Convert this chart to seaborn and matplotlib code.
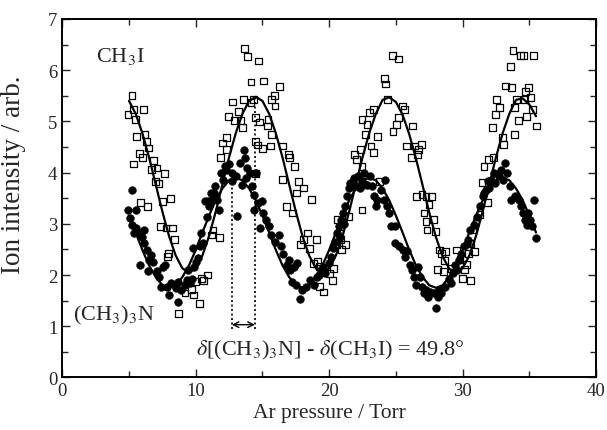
import numpy as np
import pandas as pd
import matplotlib
matplotlib.use("Agg")
import matplotlib.pyplot as plt
import seaborn as sns

# ---- data ----
ch3i_x = [5.22, 4.93, 5.36, 6.09, 5.50, 5.57, 6.20, 6.29, 6.49, 5.80, 6.03, 5.36, 6.81, 6.67, 7.10,
          7.68, 6.96, 7.25, 8.12, 7.54, 5.86, 6.38, 7.39, 7.77, 8.26, 8.41, 7.97, 7.88, 8.70, 9.20,
          9.70, 9.86, 10.00, 10.43, 10.29, 11.16, 11.30, 11.80, 11.88, 12.03, 12.30, 12.30, 12.46,
          12.75, 12.90, 13.19, 13.33, 13.48, 13.68, 13.86, 14.72, 14.14, 15.07, 13.57, 14.14, 14.30,
          14.49, 14.78, 15.42, 15.65, 15.88, 15.94, 16.29, 15.36, 15.65, 14.49, 14.64, 14.49, 15.00,
          15.60, 16.50, 16.96, 17.04, 17.39, 16.50, 17.68, 16.81, 17.25, 17.54, 18.10, 18.70, 17.83,
          18.06, 18.40, 18.55, 19.07, 18.84, 19.13, 19.28, 19.42, 19.57, 19.28, 20.23, 20.00, 20.30,
          20.58, 20.87, 20.81, 20.58, 21.45, 21.60, 21.88, 22.03, 22.32, 22.46, 22.46, 22.60, 22.75,
          22.84, 22.46, 23.04, 23.33, 23.13, 23.33, 23.62, 23.77, 24.14, 24.20, 24.35, 24.72, 25.22,
          24.78, 25.07, 25.22, 25.50, 25.65, 25.80, 26.23, 26.38, 26.67, 26.90, 26.14, 26.60, 26.52,
          26.96, 27.25, 27.48, 27.68, 27.10, 27.25, 27.33, 27.83, 27.97, 28.26, 28.40, 28.64, 28.70,
          28.12, 28.55, 29.13, 29.57, 30.00, 30.58, 30.14, 30.43, 30.87, 30.58, 30.78, 31.30, 31.45,
          31.60, 31.94, 32.32, 31.88, 32.23, 32.52, 32.46, 32.75, 32.96, 33.04, 33.19, 33.57, 33.68,
          33.77, 33.90, 33.90, 34.20, 34.35, 34.55, 34.06, 34.64, 34.72, 34.78, 34.93, 35.07, 35.22,
          35.30, 35.51, 20.90, 21.20, 29.80, 30.30, 10.60, 10.90]
ch3i_y = [5.50, 5.14, 5.24, 5.24, 5.04, 4.70, 4.75, 4.61, 4.48, 4.37, 4.29, 4.17, 4.24, 4.06, 4.09,
          3.99, 3.83, 3.78, 3.50, 3.44, 3.42, 3.34, 2.95, 2.92, 2.92, 2.69, 2.42, 2.36, 1.25, 1.65,
          1.71, 1.61, 1.87, 1.93, 1.44, 2.78, 2.88, 2.74, 4.29, 4.58, 4.68, 4.45, 5.10, 5.38, 5.01,
          5.20, 5.01, 4.88, 6.42, 6.27, 6.18, 5.77, 5.79, 5.43, 5.37, 5.43, 5.07, 4.99, 5.03, 5.43,
          5.50, 5.30, 5.68, 4.91, 4.75, 4.61, 4.54, 3.99, 4.47, 4.52, 4.52, 4.35, 4.29, 4.12, 3.86,
          3.83, 3.34, 3.21, 3.60, 3.70, 3.48, 2.59, 2.69, 2.82, 2.52, 2.69, 2.23, 2.26, 2.16, 2.08,
          1.67, 1.77, 1.90, 2.03, 2.13, 2.59, 2.69, 2.82, 3.08, 3.14, 3.73, 4.35, 4.25, 4.45, 4.12,
          3.27, 3.76, 4.75, 4.94, 5.04, 5.17, 5.24, 4.52, 4.39, 4.71, 3.83, 5.84, 5.73, 5.43, 6.29,
          6.22, 4.81, 4.94, 5.07, 5.30, 5.24, 4.52, 4.91, 4.52, 4.45, 4.55, 4.29, 4.35, 3.54, 3.57,
          3.54, 3.37, 3.54, 3.21, 3.05, 2.88, 3.08, 2.85, 2.49, 2.42, 2.29, 2.46, 2.10, 2.07, 2.13,
          2.49, 1.93, 1.90, 2.10, 2.42, 2.46, 2.62, 2.88, 3.18, 3.80, 4.12, 4.25, 4.29, 3.41, 4.88,
          5.43, 5.14, 5.27, 4.68, 4.55, 5.69, 6.08, 5.66, 6.38, 5.27, 4.75, 5.01, 6.28, 6.28, 5.43,
          5.43, 5.59, 5.10, 5.66, 5.46, 5.24, 6.28, 4.91, 2.50, 2.60, 2.30, 2.20, 1.90, 2.00]

tma_x = [5.22, 4.93, 5.07, 5.50, 5.22, 5.50, 5.36, 5.80, 5.94, 6.09, 5.80, 6.14, 6.32, 6.52, 6.67,
         6.81, 6.46, 7.10, 7.54, 7.68, 7.25, 7.39, 7.83, 8.12, 7.97, 8.41, 8.55, 8.70, 8.93, 9.20,
         8.70, 9.33, 9.42, 9.71, 9.57, 9.86, 10.00, 10.14, 9.80, 10.29, 10.43, 10.58, 10.72, 10.87,
         11.01, 11.16, 11.25, 11.45, 11.60, 11.74, 11.88, 12.03, 12.17, 12.46, 12.70, 12.75, 13.04,
         13.10, 13.33, 13.62, 13.68, 13.77, 13.86, 13.48, 14.06, 14.20, 14.35, 14.49, 14.35, 14.64,
         14.93, 15.07, 14.84, 15.30, 15.51, 15.65, 15.94, 16.23, 16.38, 16.52, 16.81, 16.96, 17.10,
         17.39, 17.62, 17.25, 17.54, 17.97, 17.83, 18.26, 18.55, 18.84, 19.07, 19.42, 19.71, 20.00,
         20.14, 20.29, 20.43, 20.58, 20.72, 20.87, 21.01, 21.16, 21.30, 21.45, 21.59, 21.88, 22.03,
         22.17, 22.46, 22.61, 23.04, 23.19, 23.33, 23.48, 23.62, 23.91, 24.20, 24.12, 24.35, 24.49,
         24.64, 24.93, 24.93, 25.22, 25.51, 25.80, 25.65, 26.09, 26.23, 26.38, 26.52, 26.67, 26.81,
         26.96, 27.10, 27.25, 27.39, 27.54, 27.83, 27.97, 28.12, 28.26, 28.41, 28.70, 28.99, 29.28,
         29.42, 29.71, 29.86, 30.14, 30.43, 30.58, 30.87, 31.07, 31.30, 31.54, 31.74, 31.88, 32.12,
         32.32, 32.46, 32.75, 32.90, 33.04, 33.19, 33.33, 33.57, 33.62, 33.91, 34.20, 34.35, 34.49,
         34.64, 34.84, 34.93, 35.07, 35.22, 35.36, 35.51, 19.20, 19.50, 20.80, 21.10, 22.30, 22.80,
         29.10, 29.60, 30.30, 31.60, 32.00, 10.90, 11.40, 12.30]
tma_y = [3.67, 3.27, 3.11, 3.26, 2.98, 2.92, 2.82, 2.82, 2.75, 2.88, 2.20, 2.62, 2.49, 2.29, 2.39,
         2.26, 2.08, 2.08, 2.16, 2.20, 1.97, 1.76, 1.77, 1.84, 1.61, 1.80, 1.74, 1.87, 1.71, 1.80,
         1.48, 1.90, 2.10, 1.93, 1.84, 2.16, 2.26, 2.33, 2.52, 2.56, 2.82, 2.62, 3.44, 3.14, 3.34,
         3.60, 3.47, 3.73, 3.47, 3.27, 3.99, 3.86, 4.12, 4.16, 3.99, 3.83, 3.93, 3.16, 4.19, 4.45,
         4.29, 3.90, 4.09, 3.76, 3.99, 3.73, 3.57, 3.99, 3.27, 3.41, 3.44, 3.21, 2.92, 3.08, 2.95,
         2.78, 2.65, 2.78, 2.56, 2.42, 2.20, 2.29, 2.10, 2.16, 2.23, 1.87, 1.80, 1.71, 1.54, 1.77,
         1.90, 1.80, 1.97, 2.10, 2.03, 2.23, 2.36, 2.52, 2.65, 2.82, 2.95, 3.08, 3.21, 3.34, 3.54,
         3.70, 3.80, 3.90, 3.73, 3.93, 3.83, 3.99, 3.93, 3.73, 3.54, 3.34, 3.47, 3.67, 3.86, 3.47,
         3.34, 3.21, 2.95, 2.95, 2.62, 2.56, 2.49, 2.46, 2.36, 2.20, 2.10, 1.97, 1.80, 2.16, 1.97,
         1.77, 1.64, 1.71, 1.58, 1.67, 1.64, 1.35, 1.58, 1.71, 1.64, 1.77, 1.93, 2.03, 2.20, 2.29,
         2.42, 2.56, 2.69, 2.88, 2.98, 3.14, 3.34, 3.54, 3.67, 3.83, 3.86, 3.99, 3.80, 3.93, 4.06,
         3.86, 4.19, 3.99, 3.73, 3.47, 3.54, 3.47, 3.34, 3.21, 3.08, 2.98, 3.21, 3.08, 2.95, 3.47,
         2.72, 2.00, 2.15, 2.75, 3.00, 3.70, 3.75, 1.85, 2.10, 2.60, 3.60, 3.70, 3.45, 3.60, 4.05]

fit_x = [5.0, 5.5, 6.0, 6.5, 7.0, 7.5, 8.0, 8.5, 9.0, 9.5, 10.0, 10.5, 11.0, 11.5, 12.0, 12.5,
         13.0, 13.5, 14.0, 14.5, 15.0, 15.5, 16.0, 16.5, 17.0, 17.5, 18.0, 18.5, 19.0, 19.5, 20.0,
         20.5, 21.0, 21.5, 22.0, 22.5, 23.0, 23.5, 24.0, 24.5, 25.0, 25.5, 26.0, 26.5, 27.0, 27.5,
         28.0, 28.5, 29.0, 29.5, 30.0, 30.5, 31.0, 31.5, 32.0, 32.5, 33.0, 33.5, 34.0, 34.5, 35.0,
         35.5]
fit_ch3i = [5.40, 5.15, 4.77, 4.30, 3.77, 3.24, 2.76, 2.38, 2.13, 2.05, 2.13, 2.38, 2.76, 3.24,
            3.77, 4.30, 4.77, 5.15, 5.40, 5.48, 5.40, 5.15, 4.77, 4.30, 3.77, 3.24, 2.76, 2.38, 2.13,
            2.05, 2.13, 2.38, 2.76, 3.24, 3.77, 4.30, 4.77, 5.15, 5.42, 5.47, 5.38, 5.13, 4.75, 4.28,
            3.75, 3.22, 2.74, 2.36, 2.12, 2.05, 2.13, 2.38, 2.76, 3.24, 3.77, 4.30, 4.77, 5.15, 5.42,
            5.45, 5.33, 5.10]
fit_tma = [3.16, 2.83, 2.49, 2.19, 1.96, 1.80, 1.75, 1.80, 1.96, 2.19, 2.49, 2.83, 3.16, 3.46,
           3.69, 3.85, 3.90, 3.85, 3.69, 3.46, 3.16, 2.83, 2.49, 2.19, 1.96, 1.80, 1.75, 1.80, 1.96,
           2.19, 2.49, 2.83, 3.16, 3.46, 3.69, 3.85, 3.90, 3.85, 3.69, 3.46, 3.16, 2.83, 2.49, 2.19,
           1.96, 1.80, 1.75, 1.80, 1.96, 2.19, 2.49, 2.83, 3.16, 3.46, 3.69, 3.85, 3.90, 3.85, 3.69,
           3.46, 3.16, 2.83]

# annotation anchors (data units)
peak_tma = 12.7
peak_ch3i = 14.43
# ---- style ----
sns.set_style("ticks")
plt.rcParams["font.family"] = ["Liberation Serif", "DejaVu Serif"]
plt.rcParams["mathtext.fontset"] = "stix"

fig = plt.figure(figsize=(6.07, 4.31), dpi=100)
ax = fig.add_axes([0.1026, 0.122, 0.8794, 0.8316])

df_sq = pd.DataFrame({"x": ch3i_x, "y": ch3i_y})
df_ci = pd.DataFrame({"x": tma_x, "y": tma_y})
df_fit = pd.DataFrame({"x": fit_x, "ch3i": fit_ch3i, "tma": fit_tma})

sns.scatterplot(data=df_ci, x="x", y="y", ax=ax, marker="o", s=32, color="black",
                edgecolor="black", linewidth=0.3, zorder=3)
sns.scatterplot(data=df_sq, x="x", y="y", ax=ax, marker="s", s=24, facecolor="none",
                edgecolor="black", linewidth=0.9, zorder=4)
sns.lineplot(data=df_fit, x="x", y="ch3i", ax=ax, color="black", linewidth=1.6, zorder=5)
sns.lineplot(data=df_fit, x="x", y="tma", ax=ax, color="black", linewidth=1.6, zorder=5)

ax.set_xlim(0, 40)
ax.set_ylim(0, 7)
ax.set_xticks([0, 10, 20, 30, 40])
ax.set_xticks([5, 15, 25, 35], minor=True)
ax.set_yticks(range(0, 8))
ax.set_yticks(np.arange(0.5, 7, 1.0), minor=True)
ax.tick_params(which="both", direction="in", top=True, right=True, labelsize=13.5, width=1.0)
ax.tick_params(which="major", length=6)
ax.tick_params(which="minor", length=4)
for sp in ax.spines.values():
    sp.set_linewidth(1.4)
    sp.set_color("black")

ax.set_xlabel("Ar pressure / Torr", fontsize=15.5, labelpad=3)
ax.set_ylabel("Ion intensity / arb.", fontsize=19.5)
ax.yaxis.set_label_coords(-0.068, 0.567)

# annotations
ax.vlines(peak_tma, 0.95, 3.9, colors="black", linestyles=(0, (1.2, 1.5)), linewidth=1.2, zorder=6)
ax.vlines(peak_ch3i, 0.95, 5.45, colors="black", linestyles=(0, (1.2, 1.5)), linewidth=1.2, zorder=6)
ax.annotate("", xy=(peak_tma, 1.03), xytext=(peak_ch3i, 1.03),
            arrowprops=dict(arrowstyle="<->", lw=1.0, color="black", shrinkA=0, shrinkB=0,
                            mutation_scale=10))
ax.text(2.5, 6.28, r"CH$_3$I", fontsize=16, ha="left", va="center")
ax.text(0.8, 1.22, r"(CH$_3$)$_3$N", fontsize=16, ha="left", va="center")
ax.text(20.1, 0.55, r"$\delta$[(CH$_3$)$_3$N] - $\delta$(CH$_3$I) = 49.8°", fontsize=16,
        ha="center", va="center")

fig.savefig("out.png", dpi=100)
